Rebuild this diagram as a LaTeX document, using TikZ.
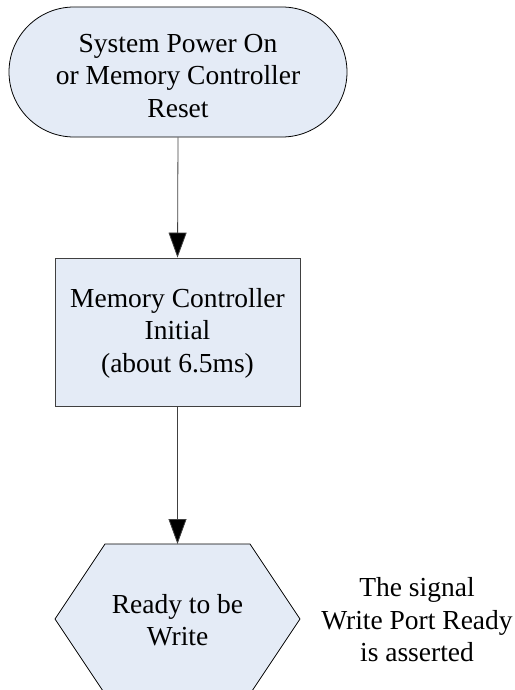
\documentclass[tikz,border=0pt]{standalone}
\usepackage{fontspec}
\setmainfont{Liberation Serif}
\usetikzlibrary{shapes.misc,arrows.meta}
\definecolor{boxfill}{HTML}{E4EBF6}
\definecolor{edge}{HTML}{404040}
\begin{document}
\begin{tikzpicture}[x=1pt,y=1pt,
  label text/.style={font=\fontsize{27.5}{32.5}\selectfont,align=center,text=black},
  stadium/.style={rounded rectangle,draw=black,fill=boxfill,line width=0.8pt,
    minimum width=338pt,minimum height=130pt,inner sep=0pt},
  procbox/.style={rectangle,draw=edge,fill=boxfill,line width=0.8pt,
    minimum width=245pt,minimum height=148pt,inner sep=0pt},
  flow/.style={draw=edge,line width=0.8pt,-{Triangle[length=25pt,width=18pt,fill=black]}}]
  \useasboundingbox (0,0) rectangle (514,-690);

  % start terminal
  \node[stadium] (start) at (178,-72) {};
  \node[label text] (starttext) at (178,-76) {System Power On\\or Memory Controller\\Reset};

  % initialisation step
  \node[procbox] (init) at (177.5,-332) {};
  \node[label text] (inittext) at (177.5,-333) {Memory Controller\\Initial\\(about 6.5ms)};

  % ready state (hexagon, running below the page edge)
  \filldraw[fill=boxfill,draw=black,line width=0.8pt]
    (105,-544) -- (250,-544) -- (300,-619) -- (250,-694)
    -- (105,-694) -- (55,-619) -- cycle;
  \coordinate (readytop) at (177.5,-544);
  \node[label text] (ready) at (177.5,-620) {Ready to be\\Write};

  % side note
  \node[label text] (note) at (417,-620) {The signal\\Write Port Ready\\is asserted};

  % connectors
  \draw[flow] (start.south) -- (init.north);
  \draw[flow] (init.south) -- (readytop);
\end{tikzpicture}
\end{document}
